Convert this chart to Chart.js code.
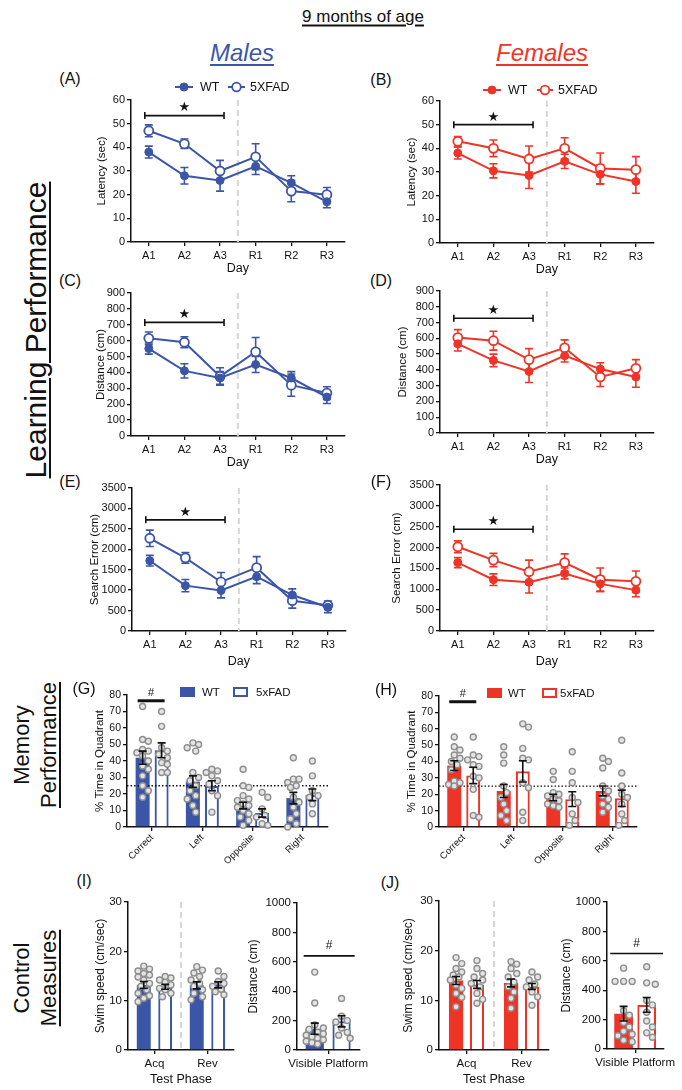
<!DOCTYPE html>
<html><head><meta charset="utf-8">
<script src="https://cdn.jsdelivr.net/npm/chart.js@4.4.1/dist/chart.umd.min.js"></script>
<style>
html,body{margin:0;padding:0;background:#fff;}
body{width:682px;height:1090px;position:relative;overflow:hidden;font-family:'Liberation Sans',Arial,Helvetica,sans-serif;color:#111;}
canvas{position:absolute;}
.t{position:absolute;white-space:nowrap;transform:translate(-50%,-50%);line-height:1;z-index:5;}
.r{transform:translate(-50%,-50%) rotate(-90deg);}
.u{text-decoration:underline;text-decoration-thickness:2px;text-underline-offset:3px;}
</style></head><body>
<script>
// ---------------- DATA ----------------
const days = ['A1','A2','A3','R1','R2','R3'];
const latMaleWT = [38, 28, 26, 32, 25, 17];
const latMaleWTErr = [2.5, 3.5, 4.5, 3.5, 3, 2.5];
const latMaleTG = [47, 41.5, 30, 36, 21.5, 20];
const latMaleTGErr = [2.5, 2, 4.5, 5.5, 4.5, 3];
const latFemWT = [38, 30.5, 28.5, 34.5, 29, 26];
const latFemWTErr = [2.5, 3, 5.5, 3, 4, 5];
const latFemTG = [43, 40, 35.5, 40, 31.5, 31];
const latFemTGErr = [2, 3.5, 5.5, 4.5, 6.5, 5.5];

const distMaleWT = [550, 410, 365, 450, 365, 245];
const distMaleWTErr = [35, 45, 40, 50, 40, 40];
const distMaleTG = [615, 590, 375, 530, 320, 270];
const distMaleTGErr = [40, 35, 55, 90, 70, 40];
const distFemWT = [565, 460, 390, 490, 405, 355];
const distFemWTErr = [45, 40, 70, 40, 40, 65];
const distFemTG = [605, 585, 465, 540, 355, 410];
const distFemTGErr = [50, 60, 70, 50, 60, 55];

const seMaleWT = [1720, 1110, 990, 1330, 880, 580];
const seMaleWTErr = [130, 150, 180, 170, 150, 130];
const seMaleTG = [2270, 1790, 1200, 1550, 740, 630];
const seMaleTGErr = [200, 130, 230, 270, 180, 100];
const seFemWT = [1640, 1230, 1170, 1380, 1130, 980];
const seFemWTErr = [120, 140, 260, 130, 180, 160];
const seFemTG = [2020, 1700, 1420, 1640, 1230, 1190];
const seFemTGErr = [140, 160, 280, 210, 280, 250];

const sigLat = [53.4, 50];
const sigDist = [715, 727];
const sigSE = [2720, 2440];

const quadrants = ['Correct','Left','Opposite','Right'];
const memMaleWT = [42, 27.5, 13, 17.5];
const memMaleWTErr = [4, 3.5, 2, 3.5];
const memMaleTG = [46.5, 25, 8.5, 19.5];
const memMaleTGErr = [4.5, 3, 2.5, 3.5];
const memMaleWTPts = [
  [73, 53, 52, 47, 46, 45, 43, 40, 37, 35, 31, 25, 22, 18],
  [51, 50, 48, 46, 33, 30, 28, 25, 22, 19, 17, 13, 9],
  [35, 25, 24, 19, 17, 16, 14, 13, 12, 10, 8, 6, 4, 1],
  [42, 29, 29, 27, 25, 24, 18, 15, 12, 8, 5, 2, 0]
];
const memMaleTGPts = [
  [70, 61, 48, 46, 44, 42, 39, 38, 33, 33],
  [35, 34, 33, 31, 28, 26, 22, 19, 9],
  [21, 18, 11, 7, 6, 2, 1],
  [40, 31, 22, 19, 18, 14, 8]
];
const memFemWT = [37.5, 22, 18, 22];
const memFemWTErr = [3, 4, 2, 3];
const memFemTG = [31.5, 34, 17, 17.5];
const memFemTGErr = [5, 6.5, 4.5, 5];
const memFemWTPts = [
  [55, 49, 47, 44, 42, 40, 38, 35, 28, 27, 26, 25],
  [49, 44, 39, 25, 21, 18, 14, 10, 7, 4],
  [34, 29, 21, 20, 19, 17, 16, 14, 13, 12],
  [42, 40, 36, 25, 22, 19, 17, 14, 12, 9]
];
const memFemTGPts = [
  [55, 44, 43, 41, 38, 37, 31, 30, 23, 7, 6],
  [63, 61, 48, 42, 41, 27, 24, 9, 4],
  [46, 34, 27, 18, 15, 8, 4, 1],
  [53, 33, 25, 20, 18, 14, 8, 4, 1]
];
const chanceLevel = 25;
const sigMem = [76.5, 76.5];

const phases = ['Acq','Rev'];
const speedMaleWT = [13.2, 13.1];
const speedMaleWTErr = [0.7, 0.7];
const speedMaleTG = [12.8, 13.2];
const speedMaleTGErr = [0.5, 0.6];
const speedMaleWTPts = [
  [17, 16.4, 16, 15.5, 15.2, 14.8, 14.2, 13.5, 12.9, 12.2, 11.5, 11, 10.5, 9.8],
  [16.9, 16.2, 15.6, 14.9, 14.2, 13.5, 12.9, 12.2, 11.5, 10.8, 10.2]
];
const speedMaleTGPts = [
  [14.9, 14.6, 14.2, 13.7, 13.2, 12.5, 12.2, 11.5, 10.8],
  [16, 14.9, 13.9, 13.5, 12.9, 12.3, 11.8, 11.2]
];
const speedFemWT = [14, 13.5];
const speedFemWTErr = [0.8, 0.8];
const speedFemTG = [13.2, 12.8];
const speedFemTGErr = [0.8, 0.6];
const speedFemWTPts = [
  [18.6, 17.4, 16.4, 15.7, 15.1, 14.7, 14.1, 13.1, 12.4, 11.4, 10.6, 8.7],
  [17.8, 17.3, 16.4, 15.4, 14.7, 13.7, 12.7, 11.7, 10.4, 8.4]
];
const speedFemTGPts = [
  [18, 16.4, 15.4, 14.7, 14.1, 13.4, 12.7, 11.4, 10.2, 9.4],
  [15.7, 14.7, 14.1, 13.3, 12.7, 11.7, 10.7, 9]
];
const visLabel = ['Visible Platform'];
const visMaleWT = [145], visMaleWTErr = [38];
const visMaleTG = [195], visMaleTGErr = [38];
const visMaleWTPts = [[530, 320, 170, 150, 140, 120, 110, 100, 90, 80, 70, 60, 50, 40]];
const visMaleTGPts = [[350, 230, 200, 190, 150, 120, 100, 80]];
const visFemWT = [240], visFemWTErr = [50];
const visFemTG = [300], visFemTGErr = [50];
const visFemWTPts = [[550, 460, 460, 460, 260, 230, 180, 150, 120, 100, 90, 60, 50]];
const visFemTGPts = [[560, 450, 440, 330, 300, 250, 190, 150, 110, 80]];
const sigVis = [640, 650];

// ---------------- STYLE ----------------
const BLUE = '#3b56a6', RED = '#ee3427', INK = '#111';
Chart.defaults.font.family = "'Liberation Sans', Arial, Helvetica, sans-serif";
Chart.defaults.color = INK;

function makeCanvas(g){
  const c = document.createElement('canvas');
  const W = Math.round(g.r + g.padR - g.tl), H = Math.round(g.padT + g.b - g.t + g.xh);
  c.width = W; c.height = H;
  c.style.left = g.tl + 'px'; c.style.top = (g.t - g.padT) + 'px';
  c.style.width = W + 'px'; c.style.height = H + 'px';
  document.body.appendChild(c);
  return c;
}
function axis(fs, extra){
  const a = {
    border:{display:true, color:INK, width:1.5},
    grid:{display:true, drawOnChartArea:false, drawTicks:true, tickLength:4, color:INK, lineWidth:1.3, offset:false},
    ticks:{color:INK, font:{size:fs}, padding:2, autoSkip:false}
  };
  for (const k in extra){
    if (typeof extra[k] === 'object' && a[k] && !Array.isArray(extra[k])) a[k] = Object.assign({}, a[k], extra[k]);
    else a[k] = extra[k];
  }
  return a;
}
const plainNum = v => String(v);
function swarm(cx, ys, r, maxHalf){
  const idx = ys.map((_, i) => i).sort((a, b) => ys[a] - ys[b]);
  const placed = [], xs = [];
  const minD = 2*r + 0.9, step = r*0.95;
  const cands = [0];
  for (let k = 1; k*step <= maxHalf; k++) cands.push(k*step, -k*step);
  for (const i of idx){
    let bestX = cx, bestScore = -1;
    for (const off of cands){
      const px = cx + off;
      let md = Infinity;
      for (const p of placed){ const d = Math.hypot(p[0]-px, p[1]-ys[i]); if (d < md) md = d; }
      if (md >= minD){ bestX = px; break; }
      if (md > bestScore){ bestScore = md; bestX = px; }
    }
    xs[i] = bestX; placed.push([bestX, ys[i]]);
  }
  return xs;
}
function drawErrors(chart, errs, color, cap, lw){
  const {ctx, scales:{y}} = chart;
  ctx.save(); ctx.strokeStyle = color; ctx.lineWidth = lw; ctx.setLineDash([]);
  errs.forEach((arr, di) => {
    const meta = chart.getDatasetMeta(di);
    const vals = chart.data.datasets[di].data;
    arr.forEach((e, i) => {
      const xc = meta.data[i].x, v = vals[i];
      const yt = y.getPixelForValue(v + e), yb = y.getPixelForValue(v - e);
      ctx.beginPath();
      ctx.moveTo(xc, yt); ctx.lineTo(xc, yb);
      ctx.moveTo(xc - cap, yt); ctx.lineTo(xc + cap, yt);
      ctx.moveTo(xc - cap, yb); ctx.lineTo(xc + cap, yb);
      ctx.stroke();
    });
  });
  ctx.restore();
}
const extras = {
  id:'extras',
  beforeDatasetsDraw(chart, a, o){
    const {ctx, chartArea:ca, scales:{x}} = chart;
    if (o.dashAt != null){
      const px = (x.getPixelForTick(o.dashAt) + x.getPixelForTick(o.dashAt + 1)) / 2;
      ctx.save(); ctx.strokeStyle = '#d6d6d6'; ctx.lineWidth = 2; ctx.setLineDash([6, 4]);
      ctx.beginPath(); ctx.moveTo(px, ca.top); ctx.lineTo(px, ca.bottom); ctx.stroke(); ctx.restore();
    }
    if (o.lineErrors) drawErrors(chart, o.lineErrors, o.color, 4, 1.6);
  },
  afterDatasetsDraw(chart, a, o){
    const {ctx, chartArea:ca, scales:{x, y}} = chart;
    const ox = chart.canvas.offsetLeft, oy = chart.canvas.offsetTop;
    if (o.hline != null){
      const yy = y.getPixelForValue(o.hline);
      ctx.save(); ctx.strokeStyle = INK; ctx.lineWidth = 1.3; ctx.setLineDash([1.5, 2]);
      ctx.beginPath(); ctx.moveTo(ca.left, yy); ctx.lineTo(ca.right, yy); ctx.stroke(); ctx.restore();
    }
    if (o.points){
      ctx.save(); ctx.fillStyle = '#e4e4e4'; ctx.strokeStyle = '#8e8e8e'; ctx.lineWidth = 1.4;
      const R = o.pr || 3;
      o.points.forEach((groups, di) => {
        const meta = chart.getDatasetMeta(di);
        groups.forEach((vals, i) => {
          const el = meta.data[i];
          const ys = vals.map(v => y.getPixelForValue(v));
          const xs = swarm(el.x, ys, R, el.width/2 + 1);
          ys.forEach((py, k) => { ctx.beginPath(); ctx.arc(xs[k], py, R, 0, 2*Math.PI); ctx.fill(); ctx.stroke(); });
        });
      });
      ctx.restore();
    }
    if (o.barErrors) drawErrors(chart, o.barErrors, INK, 4, 1.6);
    if (o.bracket){
      const b = o.bracket;
      const x1 = x.getPixelForTick(b.from) - 4, x2 = x.getPixelForTick(b.to) + 4, yy = y.getPixelForValue(b.value);
      ctx.save(); ctx.strokeStyle = INK; ctx.lineWidth = 1.6;
      ctx.beginPath(); ctx.moveTo(x1, yy); ctx.lineTo(x2, yy);
      ctx.moveTo(x1, yy - 3.5); ctx.lineTo(x1, yy + 3.5);
      ctx.moveTo(x2, yy - 3.5); ctx.lineTo(x2, yy + 3.5); ctx.stroke();
      ctx.fillStyle = INK; ctx.font = "13px 'DejaVu Sans'"; ctx.textAlign = 'center'; ctx.textBaseline = 'middle';
      ctx.fillText('★', (x1 + x2)/2, yy - 7.5);
      ctx.restore();
    }
    if (o.sig){
      const s = o.sig;
      const m0 = chart.getDatasetMeta(0).data[0], m1 = chart.getDatasetMeta(1).data[0];
      const x1 = m0.x - m0.width/2 + s.inL, x2 = m1.x + m1.width/2 + s.inR, yy = y.getPixelForValue(s.value);
      ctx.save(); ctx.strokeStyle = INK; ctx.lineWidth = s.lw;
      ctx.beginPath(); ctx.moveTo(x1, yy); ctx.lineTo(x2, yy); ctx.stroke();
      ctx.fillStyle = INK; ctx.font = s.fs + "px 'Liberation Sans', Arial"; ctx.textAlign = 'center'; ctx.textBaseline = 'middle';
      ctx.fillText('#', (x1 + x2)/2, yy - s.dy);
      ctx.restore();
    }
    if (o.legend){
      const L = o.legend;
      ctx.save();
      L.items.forEach(it => {
        const yy = it.y - oy;
        ctx.strokeStyle = L.color; ctx.fillStyle = L.color;
        if (it.kind === 'line'){
          ctx.lineWidth = 2;
          ctx.beginPath(); ctx.moveTo(it.x1 - ox, yy); ctx.lineTo(it.x2 - ox, yy); ctx.stroke();
          ctx.beginPath(); ctx.arc((it.x1 + it.x2)/2 - ox, yy, it.filled ? 4 : 4.3, 0, 2*Math.PI);
          ctx.fillStyle = it.filled ? L.color : '#fff'; ctx.fill();
          ctx.lineWidth = it.filled ? 1 : 1.8; ctx.stroke();
        } else {
          const w = it.x2 - it.x1, h = 10;
          if (it.filled){ ctx.fillRect(it.x1 - ox, yy - h/2, w, h); }
          else { ctx.lineWidth = 2; ctx.strokeRect(it.x1 - ox + 1, yy - h/2 + 1, w - 2, h - 2); }
        }
        ctx.fillStyle = INK; ctx.font = L.fs + "px 'Liberation Sans', Arial"; ctx.textAlign = 'left'; ctx.textBaseline = 'middle';
        ctx.fillText(it.text, it.tx - ox, yy + 0.5);
      });
      ctx.restore();
    }
  }
};

function lineChart(g, c){
  const cv = makeCanvas(g);
  return new Chart(cv, {
    type:'line',
    data:{labels:days, datasets:[
      {label:'WT', data:c.wt, borderColor:c.color, backgroundColor:c.color, borderWidth:2, pointRadius:4, pointBackgroundColor:c.color, pointBorderColor:c.color, pointBorderWidth:1, tension:0},
      {label:'5XFAD', data:c.tg, borderColor:c.color, backgroundColor:'#fff', borderWidth:2, pointRadius:4.5, pointBackgroundColor:'#fff', pointBorderColor:c.color, pointBorderWidth:1.8, tension:0}
    ]},
    options:{
      responsive:false, animation:false, devicePixelRatio:1,
      layout:{padding:{left:0, top:g.padT, right:g.padR, bottom:0}},
      plugins:{legend:{display:false}, tooltip:{enabled:false},
        extras:{color:c.color, lineErrors:[c.wtErr, c.tgErr], dashAt:2, bracket:{from:0, to:2, value:c.sig}, legend:c.legend}},
      scales:{
        x:axis(11, {type:'category', offset:true, ticks:{maxRotation:0, minRotation:0, padding:3},
          title:{display:true, text:'Day', font:{size:12.5}, padding:0, color:INK}, afterFit:s => { s.height = g.xh; }}),
        y:axis(11, {min:0, max:c.yMax, ticks:{stepSize:c.yStep, callback:plainNum},
          title:{display:true, text:c.yTitle, font:{size:11.5}, padding:0, color:INK}, afterFit:s => { s.width = g.l - g.tl; }})
      }
    },
    plugins:[extras]
  });
}

function barChart(g, c){
  const cv = makeCanvas(g);
  const ex = {points:[c.wtPts, c.tgPts], barErrors:[c.wtErr, c.tgErr], pr:c.pr || 3};
  if (c.hline != null) ex.hline = c.hline;
  if (c.dashAt != null) ex.dashAt = c.dashAt;
  if (c.sig) ex.sig = c.sig;
  if (c.legend) ex.legend = c.legend;
  const xo = {type:'category', offset:true, ticks:{maxRotation:c.rot || 0, minRotation:c.rot || 0, padding:c.rot ? 1 : 3, font:{size:c.xfs}}, afterFit:s => { s.height = g.xh; }};
  if (c.xTitle) xo.title = {display:true, text:c.xTitle, font:{size:12.5}, padding:0, color:INK};
  return new Chart(cv, {
    type:'bar',
    data:{labels:c.labels, datasets:[
      {label:'WT', data:c.wt, backgroundColor:c.color, borderColor:c.color, borderWidth:0, categoryPercentage:c.cp, barPercentage:c.bp},
      {label:'5xFAD', data:c.tg, backgroundColor:'#fff', borderColor:c.color, borderWidth:2.2, categoryPercentage:c.cp, barPercentage:c.bp}
    ]},
    options:{
      responsive:false, animation:false, devicePixelRatio:1,
      layout:{padding:{left:0, top:g.padT, right:g.padR, bottom:0}},
      plugins:{legend:{display:false}, tooltip:{enabled:false}, extras:ex},
      scales:{
        x:axis(c.xfs, xo),
        y:axis(c.yfs, {min:0, max:c.yMax, ticks:{stepSize:c.yStep, font:{size:c.yfs}, callback:plainNum},
          title:{display:true, text:c.yTitle, font:{size:c.tfs}, padding:0, color:INK}, afterFit:s => { s.width = g.l - g.tl; }})
      }
    },
    plugins:[extras]
  });
}

// ---------------- PANELS ----------------
lineChart({tl:95, l:131, t:100, r:347, b:242, xh:34, padT:22, padR:4},
  {color:BLUE, wt:latMaleWT, wtErr:latMaleWTErr, tg:latMaleTG, tgErr:latMaleTGErr, yMax:60, yStep:10, yTitle:'Latency (sec)', sig:sigLat[0],
   legend:{color:BLUE, fs:12.5, items:[{kind:'line', filled:true, x1:175, x2:193, y:87, text:'WT', tx:200},{kind:'line', filled:false, x1:228, x2:245, y:87, text:'5XFAD', tx:250}]}});
lineChart({tl:405, l:440, t:101, r:656, b:243, xh:34, padT:22, padR:4},
  {color:RED, wt:latFemWT, wtErr:latFemWTErr, tg:latFemTG, tgErr:latFemTGErr, yMax:60, yStep:10, yTitle:'Latency (sec)', sig:sigLat[1],
   legend:{color:RED, fs:12.5, items:[{kind:'line', filled:true, x1:483, x2:501, y:90, text:'WT', tx:508},{kind:'line', filled:false, x1:537, x2:553, y:90, text:'5XFAD', tx:558}]}});
lineChart({tl:94, l:131, t:293, r:347, b:436, xh:34, padT:12, padR:4},
  {color:BLUE, wt:distMaleWT, wtErr:distMaleWTErr, tg:distMaleTG, tgErr:distMaleTGErr, yMax:900, yStep:100, yTitle:'Distance (cm)', sig:sigDist[0]});
lineChart({tl:396, l:440, t:291, r:656, b:433, xh:34, padT:12, padR:4},
  {color:RED, wt:distFemWT, wtErr:distFemWTErr, tg:distFemTG, tgErr:distFemTGErr, yMax:900, yStep:100, yTitle:'Distance (cm)', sig:sigDist[1]});
lineChart({tl:88, l:132, t:488, r:348, b:631, xh:38, padT:12, padR:4},
  {color:BLUE, wt:seMaleWT, wtErr:seMaleWTErr, tg:seMaleTG, tgErr:seMaleTGErr, yMax:3500, yStep:500, yTitle:'Search Error (cm)', sig:sigSE[0]});
lineChart({tl:390, l:440, t:485, r:656, b:631, xh:38, padT:12, padR:4},
  {color:RED, wt:seFemWT, wtErr:seFemWTErr, tg:seFemTG, tgErr:seFemTGErr, yMax:3500, yStep:500, yTitle:'Search Error (cm)', sig:sigSE[1]});

barChart({tl:93, l:127, t:695, r:328, b:827, xh:42, padT:12, padR:4},
  {labels:quadrants, color:BLUE, wt:memMaleWT, wtErr:memMaleWTErr, tg:memMaleTG, tgErr:memMaleTGErr, wtPts:memMaleWTPts, tgPts:memMaleTGPts,
   yMax:80, yStep:10, yTitle:'% Time in Quadrant', yfs:10.5, xfs:9.5, tfs:11.5, rot:45, cp:0.756, bp:0.737, hline:chanceLevel,
   sig:{value:sigMem[0], inL:2, inR:-4, lw:3, fs:11, dy:8},
   legend:{color:BLUE, fs:11.5, items:[{kind:'rect', filled:true, x1:180, x2:195, y:692, text:'WT', tx:202},{kind:'rect', filled:false, x1:233, x2:248, y:692, text:'5xFAD', tx:256}]}});
barChart({tl:405, l:439, t:696, r:637, b:827, xh:42, padT:12, padR:4},
  {labels:quadrants, color:RED, wt:memFemWT, wtErr:memFemWTErr, tg:memFemTG, tgErr:memFemTGErr, wtPts:memFemWTPts, tgPts:memFemTGPts,
   yMax:80, yStep:10, yTitle:'% Time in Quadrant', yfs:10.5, xfs:9.5, tfs:11.5, rot:45, cp:0.768, bp:0.737, hline:chanceLevel,
   sig:{value:sigMem[1], inL:2, inR:-4, lw:3, fs:11, dy:8},
   legend:{color:RED, fs:11.5, items:[{kind:'rect', filled:true, x1:487, x2:502, y:693, text:'WT', tx:508},{kind:'rect', filled:false, x1:542, x2:557, y:693, text:'5xFAD', tx:560}]}});

barChart({tl:93, l:128, t:902, r:234, b:1050, xh:37, padT:10, padR:4},
  {labels:phases, color:BLUE, wt:speedMaleWT, wtErr:speedMaleWTErr, tg:speedMaleTG, tgErr:speedMaleTGErr, wtPts:speedMaleWTPts, tgPts:speedMaleTGPts,
   yMax:30, yStep:10, yTitle:'Swim speed (cm/sec)', yfs:11.5, xfs:11.5, tfs:12, cp:0.81, bp:0.65, dashAt:0, xTitle:'Test Phase'});
barChart({tl:246, l:297, t:903, r:366, b:1050, xh:24, padT:10, padR:10},
  {labels:visLabel, color:BLUE, wt:visMaleWT, wtErr:visMaleWTErr, tg:visMaleTG, tgErr:visMaleTGErr, wtPts:visMaleWTPts, tgPts:visMaleTGPts,
   yMax:1000, yStep:200, yTitle:'Distance (cm)', yfs:11.5, xfs:11.5, tfs:12, cp:0.86, bp:0.68,
   sig:{value:sigVis[0], inL:-2, inR:4, lw:1.6, fs:12, dy:10}});
barChart({tl:401, l:439, t:901, r:549, b:1050, xh:37, padT:10, padR:4},
  {labels:phases, color:RED, wt:speedFemWT, wtErr:speedFemWTErr, tg:speedFemTG, tgErr:speedFemTGErr, wtPts:speedFemWTPts, tgPts:speedFemTGPts,
   yMax:30, yStep:10, yTitle:'Swim speed (cm/sec)', yfs:11.5, xfs:11.5, tfs:12, cp:0.76, bp:0.68, dashAt:0, xTitle:'Test Phase'});
barChart({tl:559, l:607, t:902, r:673, b:1049, xh:24, padT:10, padR:10},
  {labels:visLabel, color:RED, wt:visFemWT, wtErr:visFemWTErr, tg:visFemTG, tgErr:visFemTGErr, wtPts:visFemWTPts, tgPts:visFemTGPts,
   yMax:1000, yStep:200, yTitle:'Distance (cm)', yfs:11.5, xfs:11.5, tfs:12, cp:0.82, bp:0.81,
   sig:{value:sigVis[1], inL:-4, inR:7, lw:1.6, fs:12, dy:10}});

// ---------------- TEXT ----------------
function txt(s, x, y, style, cls){
  const d = document.createElement('div');
  d.className = 't' + (cls ? ' ' + cls : '');
  d.textContent = s;
  d.style.left = x + 'px'; d.style.top = y + 'px';
  Object.assign(d.style, style || {});
  document.body.appendChild(d);
  return d;
}
txt('9 months of age', 363, 16, {fontSize:'17px'}, 'u');
txt('Males', 242, 53, {fontSize:'24px', fontStyle:'italic', color:BLUE}, 'u');
txt('Females', 542, 53, {fontSize:'24px', fontStyle:'italic', color:RED}, 'u');
txt('Learning Performance', 36, 330, {fontSize:'30px'}, 'r u');
txt('Memory', 22, 745, {fontSize:'22px'}, 'r');
txt('Performance', 49, 745, {fontSize:'22px'}, 'r u');
txt('Control', 22, 978, {fontSize:'22px'}, 'r');
txt('Measures', 49, 978, {fontSize:'22px'}, 'r u');
const lab = {fontSize:'16px'};
txt('(A)', 70, 79, lab); txt('(B)', 381, 80, lab);
txt('(C)', 70, 281, lab); txt('(D)', 381, 281, lab);
txt('(E)', 70, 482, lab); txt('(F)', 381, 482, lab);
txt('(G)', 84, 689, lab); txt('(H)', 386, 690, lab);
txt('(I)', 84, 881, lab); txt('(J)', 390, 883, lab);
</script>
</body></html>
